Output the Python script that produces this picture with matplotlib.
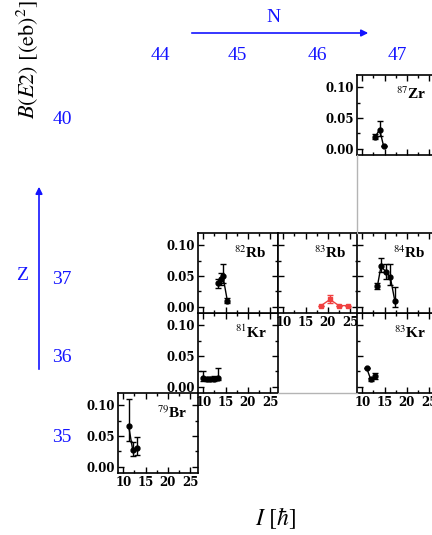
import matplotlib
matplotlib.use('Agg')
import matplotlib.pyplot as plt
from matplotlib.lines import Line2D
from matplotlib.patches import FancyArrowPatch
from matplotlib.ticker import MultipleLocator

plt.rcParams['font.family'] = 'Liberation Serif'
plt.rcParams['mathtext.fontset'] = 'stix'

# B(E2) values [(eb)^2] vs spin I [hbar], with lower/upper errors
br79_spin = [11.2, 12.1, 13.1]
br79_be2 = [0.066, 0.028, 0.030]
br79_lo = [0.024, 0.010, 0.011]
br79_hi = [0.045, 0.012, 0.018]

kr81_spin = [10.0, 10.8, 11.6, 12.4, 13.2]
kr81_be2 = [0.014, 0.012, 0.012, 0.013, 0.015]
kr81_lo = [0.004, 0.003, 0.003, 0.003, 0.004]
kr81_hi = [0.012, 0.004, 0.004, 0.005, 0.016]

kr83_spin = [11.0, 11.9, 12.9]
kr83_be2 = [0.030, 0.012, 0.017]
kr83_lo = [0.000, 0.003, 0.005]
kr83_hi = [0.000, 0.003, 0.005]

rb82_spin = [13.4, 14.0, 14.4, 15.4]
rb82_be2 = [0.038, 0.045, 0.050, 0.010]
rb82_lo = [0.008, 0.010, 0.012, 0.004]
rb82_hi = [0.008, 0.010, 0.019, 0.004]

rb83_spin = [18.5, 20.5, 22.5, 24.5]
rb83_be2 = [0.002, 0.012, 0.002, 0.002]
rb83_lo = [0.000, 0.006, 0.000, 0.000]
rb83_hi = [0.000, 0.008, 0.000, 0.000]

rb84_spin = [13.4, 14.2, 15.3, 16.3, 17.3]
rb84_be2 = [0.034, 0.066, 0.057, 0.048, 0.010]
rb84_lo = [0.005, 0.010, 0.012, 0.013, 0.010]
rb84_hi = [0.005, 0.014, 0.012, 0.021, 0.023]

zr87_spin = [12.9, 13.9, 14.8]
zr87_be2 = [0.020, 0.031, 0.004]
zr87_lo = [0.004, 0.010, 0.000]
zr87_hi = [0.004, 0.014, 0.000]

n_values = [44, 45, 46, 47]
z_values = [40, 37, 36, 35]

# nucleus: (mass, element, N, Z, spin, be2, lo, hi, color, marker, xlabels, ylabels)
nuclei = [
    ('79', 'Br', 44, 35, br79_spin, br79_be2, br79_lo, br79_hi, 'k', 'o', True, True),
    ('81', 'Kr', 45, 36, kr81_spin, kr81_be2, kr81_lo, kr81_hi, 'k', 'o', True, True),
    ('83', 'Kr', 47, 36, kr83_spin, kr83_be2, kr83_lo, kr83_hi, 'k', 'o', True, False),
    ('82', 'Rb', 45, 37, rb82_spin, rb82_be2, rb82_lo, rb82_hi, 'k', 'o', False, True),
    ('83', 'Rb', 46, 37, rb83_spin, rb83_be2, rb83_lo, rb83_hi, '#f04040', 's', True, False),
    ('84', 'Rb', 47, 37, rb84_spin, rb84_be2, rb84_lo, rb84_hi, 'k', 'o', False, False),
    ('87', 'Zr', 47, 40, zr87_spin, zr87_be2, zr87_lo, zr87_hi, 'k', 'o', False, True),
]

W, H = 432, 535
fig = plt.figure(figsize=(W / 100, H / 100), dpi=100)

# panel grid in pixels (from top-left)
col_left = {44: 118, 45: 198, 46: 278, 47: 357}
row_top = {40: 75, 37: 233, 36: 313, 35: 393}
PW, PH = 80, 80

tick_font = dict(family='DejaVu Serif', weight='bold', size=8.5)

for mass, elem, N, Z, spin, be2, lo, hi, col, mk, xl, yl in nuclei:
    x0 = col_left[N]
    y0 = row_top[Z]
    ax = fig.add_axes([x0 / W, 1 - (y0 + PH) / H, PW / W, PH / H])
    ax.errorbar(spin, be2, yerr=[lo, hi], fmt='-' + mk, color=col, ecolor=col,
                ms=3.5, lw=1.0, elinewidth=1.0, capsize=2, capthick=1)
    ax.set_xlim(8.8, 26.8)
    ax.set_ylim(-0.01, 0.12)
    ax.set_xticks([10, 15, 20, 25])
    ax.set_yticks([0.0, 0.05, 0.10])
    ax.xaxis.set_minor_locator(MultipleLocator(2.5))
    ax.yaxis.set_minor_locator(MultipleLocator(0.025))
    # right-hand column runs past the figure edge
    ax.tick_params(which='both', direction='in', top=True, right=(N != 47),
                   width=1, pad=2)
    ax.tick_params(which='major', length=4)
    ax.tick_params(which='minor', length=2)
    if xl:
        ax.set_xticklabels(['10', '15', '20', '25'], **tick_font)
    else:
        ax.set_xticklabels([])
    if yl:
        ax.set_yticklabels(['0.00', '0.05', '0.10'], **tick_font)
    else:
        ax.set_yticklabels([])
    for sp in ax.spines.values():
        sp.set_linewidth(1.2)
    ax.text(0.86, 0.76, r'$^{' + mass + r'}$' + elem, transform=ax.transAxes,
            ha='right', va='center', fontsize=11, fontweight='bold')

# grey guide lines around the empty cells
gray = '#b4b4b4'
fig.add_artist(Line2D([357 / W, 357 / W], [1 - 155 / H, 1 - 233 / H],
                      color=gray, lw=1, transform=fig.transFigure))
fig.add_artist(Line2D([278 / W, 357 / W], [1 - 393 / H, 1 - 393 / H],
                      color=gray, lw=1, transform=fig.transFigure))

blue = '#1414ff'
# neutron number axis
fig.text(273 / W, 1 - 18 / H, 'N', color=blue, fontsize=14, ha='center', va='center')
fig.add_artist(FancyArrowPatch((189 / W, 1 - 33 / H), (371 / W, 1 - 33 / H),
                               transform=fig.transFigure, arrowstyle='-|>',
                               mutation_scale=10, color=blue, lw=1.2))
for n, x in zip(n_values, [160, 237, 317, 397]):
    fig.text(x / W, 1 - 55 / H, str(n), color=blue, fontsize=14, ha='center', va='center')

# proton number axis
fig.text(22 / W, 1 - 276 / H, 'Z', color=blue, fontsize=14, ha='center', va='center')
fig.add_artist(FancyArrowPatch((39 / W, 1 - 372 / H), (39 / W, 1 - 184 / H),
                               transform=fig.transFigure, arrowstyle='-|>',
                               mutation_scale=10, color=blue, lw=1.2))
for z, y in zip(z_values, [120, 280, 357, 437]):
    fig.text(62 / W, 1 - y / H, str(z), color=blue, fontsize=14, ha='center', va='center')

fig.text(27 / W, 1 - 60 / H, r'$B(E2)\ [(\mathrm{eb})^2]$', rotation=90,
         fontsize=16, ha='center', va='center')
fig.text(276 / W, 1 - 518 / H, r'$I\ [\hbar]$', fontsize=17, ha='center', va='center')

fig.savefig('out.png', dpi=100)
